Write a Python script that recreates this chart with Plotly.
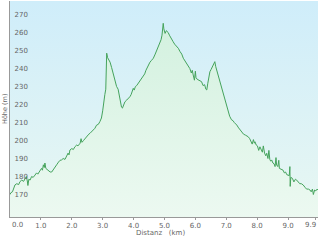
import plotly.graph_objects as go

# Elevation profile data (distance in km, elevation in m)
dist = [0.00,0.03,0.08,0.12,0.16,0.22,0.28,0.32,0.38,0.44,0.49,0.53,0.56,0.58,0.61,0.65,0.70,0.75,0.81,0.86,
        0.90,0.97,1.02,1.05,1.08,1.11,1.13,1.16,1.20,1.24,1.30,1.35,1.40,1.45,1.51,1.57,1.62,1.67,1.72,1.78,
        1.83,1.88,1.91,1.94,2.00,2.05,2.10,2.16,2.20,2.27,2.30,2.33,2.38,2.43,2.50,2.55,2.59,2.64,2.70,2.75,
        2.80,2.86,2.91,2.96,3.00,3.03,3.07,3.10,3.12,3.13,3.16,3.20,3.24,3.29,3.34,3.40,3.45,3.50,3.54,3.58,
        3.61,3.64,3.68,3.72,3.78,3.84,3.88,3.92,3.96,3.99,4.02,4.06,4.10,4.15,4.20,4.25,4.31,4.36,4.40,4.44,
        4.48,4.53,4.58,4.64,4.70,4.75,4.80,4.85,4.89,4.92,4.96,4.98,5.00,5.02,5.06,5.09,5.12,5.16,5.20,5.24,
        5.28,5.33,5.38,5.45,5.50,5.56,5.61,5.66,5.72,5.77,5.82,5.87,5.90,5.93,5.97,6.00,6.02,6.06,6.12,6.16,
        6.20,6.25,6.30,6.34,6.37,6.40,6.44,6.47,6.51,6.55,6.59,6.63,6.66,6.70,6.74,6.80,6.85,6.90,6.96,7.01,
        7.06,7.11,7.17,7.22,7.26,7.30,7.34,7.40,7.45,7.50,7.56,7.62,7.67,7.71,7.76,7.80,7.84,7.88,7.91,7.93,
        7.97,8.01,8.05,8.09,8.13,8.17,8.20,8.24,8.28,8.31,8.35,8.38,8.41,8.44,8.47,8.51,8.55,8.58,8.61,8.63,
        8.67,8.70,8.72,8.77,8.80,8.84,8.88,8.92,8.96,9.01,9.04,9.06,9.07,9.09,9.14,9.19,9.24,9.28,9.33,9.38,
        9.43,9.49,9.55,9.60,9.66,9.71,9.75,9.79,9.82,9.86,9.90,9.94,9.97]
elev = [172.5,173.5,174,176.5,177.8,178.5,178,179.6,180.5,179.8,181.5,182.5,180,177.5,181,180.5,182.5,182,183.3,184.5,
        183.8,186,187,186,189,187.5,190,187,186.5,185.5,185,185,186.5,187.5,189,190.5,191.5,191.7,192.5,192,
        193.5,195.5,194.5,197.2,198,197.5,199,200,199.5,201,203.5,201.5,202.5,203.7,205,206,206.5,207.5,208.5,209.3,
        211,211.5,213,215,219,224,228,231,244,251,248.5,247,246,243,239.8,236,232.5,231,226.8,223.5,
        221,220.5,222,224,225,226,226.8,228,230,231.5,230.5,232.5,233,234.3,235,236.5,238,239.5,241.5,243,
        244.4,246,247,248.2,250.5,252.5,254.6,256.5,258.5,261,267.6,264.5,263,262,263.5,263,262.5,261,259.5,258.5,
        257.4,256,255,253.7,252,250.5,248.2,247,245.5,244.4,242.5,240,241.5,238.9,236,241,237.5,236.5,236,235.5,
        235.2,233,233.5,231,230.6,234,237.5,240.7,242,243.5,244.5,246.3,243.5,241,238.9,235,231.5,228,225,221,
        218.5,216,214,213.5,212.5,212,211.1,209.5,208.5,207.4,206,205.5,205,204.6,203.5,202,200.5,203,201,201.8,
        200,199.5,197,199,197.5,196,199.5,195.5,194,195.4,192.5,197,192,191,191.7,190,189.5,188,193,188.9,
        188,191.5,187,186.5,186,186,184.5,185,183.5,183.3,183,188,177,182,181.5,179.5,181,180.5,179.5,178.5,
        178.5,177.8,176.5,175.5,175.5,175,174,175.5,172.5,175,174.5,175.5,175]

x_tickvals = [0, 1, 2, 3, 4, 5, 6, 7, 8, 9, 9.9]
x_ticktext = ["0.0", "1.0", "2.0", "3.0", "4.0", "5.0", "6.0", "7.0", "8.0", "9.0", "9.9"]
y_tickvals = [170, 180, 190, 200, 210, 220, 230, 240, 250, 260, 270]

X_MIN, X_MAX = 0, 9.97
Y_MIN, Y_MAX = 160, 280

fig = go.Figure()

# background gradient (sky blue to pale green)
fig.add_trace(go.Scatter(
    x=[X_MIN, X_MAX, X_MAX, X_MIN, X_MIN], y=[Y_MIN, Y_MIN, Y_MAX, Y_MAX, Y_MIN],
    mode="none", fill="toself",
    fillgradient=dict(type="vertical", colorscale=[[0, "#e8f7f2"], [1, "#cfedfa"]]),
    hoverinfo="skip", showlegend=False))

# baseline for the area fill
fig.add_trace(go.Scatter(x=dist, y=[Y_MIN] * len(dist), mode="lines",
                         line=dict(width=0), hoverinfo="skip", showlegend=False))

fig.add_trace(go.Scatter(
    x=dist, y=elev, mode="lines",
    line=dict(color="#45a35c", width=1),
    fill="tonexty",
    fillgradient=dict(type="vertical", colorscale=[[0, "#ecf9f1"], [1, "#d3f1df"]]),
    showlegend=False))

fig.update_layout(
    width=320, height=240,
    margin=dict(l=10, r=2, t=1, b=23),
    paper_bgcolor="white", plot_bgcolor="#e2f4f5",
    font=dict(family="DejaVu Sans", size=7, color="#666666"),
    showlegend=False,
)

# x tick labels: first and last drawn as annotations so they stay inside the page
fig.update_xaxes(
    range=[X_MIN, X_MAX], tickvals=x_tickvals,
    ticktext=[""] + x_ticktext[1:-1] + [""],
    showgrid=False, zeroline=False,
    showline=True, linecolor="#999999", linewidth=1,
    ticks="outside", ticklen=2, tickcolor="#999999",
    tickfont=dict(size=7, color="#666666"),
)
fig.add_annotation(text=x_ticktext[0], x=x_tickvals[0], xref="x", yref="paper", y=0,
                   xanchor="left", yanchor="top", xshift=0, yshift=-2,
                   showarrow=False, font=dict(size=7, color="#666666"))
fig.add_annotation(text=x_ticktext[-1], x=X_MAX, xref="x", yref="paper", y=0,
                   xanchor="right", yanchor="top", xshift=0, yshift=-2,
                   showarrow=False, font=dict(size=7, color="#666666"))

fig.update_yaxes(
    range=[Y_MIN, Y_MAX], tickvals=y_tickvals,
    showgrid=True, gridcolor="#b9d6de", gridwidth=1, zeroline=False,
    showline=True, linecolor="#999999", linewidth=1,
    ticks="", ticklabelposition="inside", ticklabelshift=-4, ticklabelstandoff=3,
    tickfont=dict(size=7, color="#666666"),
)

fig.add_annotation(text="Höhe (m)", xref="paper", yref="paper", x=0, y=0.5,
                   xanchor="center", yanchor="middle", xshift=-5, textangle=-90,
                   showarrow=False, font=dict(size=6.5, color="#666666"))
fig.add_annotation(text="Distanz   (km)", xref="paper", yref="paper", x=0.49, y=0,
                   xanchor="center", yanchor="middle", yshift=-16,
                   showarrow=False, font=dict(size=7, color="#666666"))

fig.write_html("out.html")
